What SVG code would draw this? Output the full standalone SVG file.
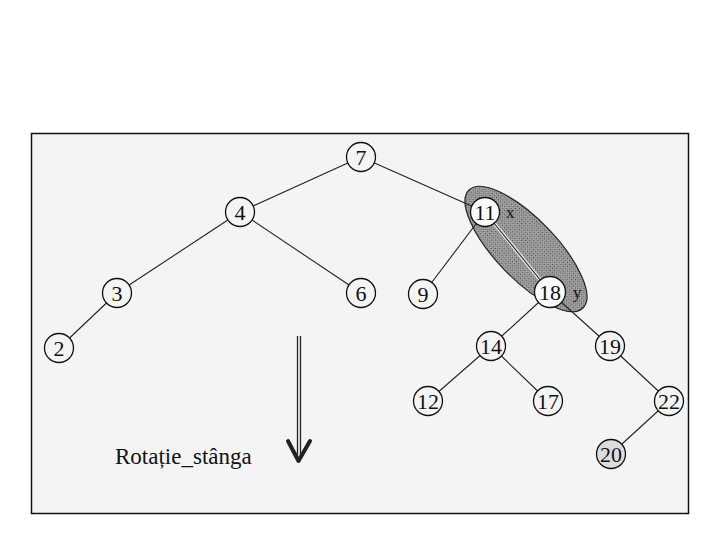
<svg xmlns="http://www.w3.org/2000/svg" width="720" height="540" viewBox="0 0 720 540">
<defs>
<style>
.edge{stroke:#222;stroke-width:1.1;fill:none}
.node circle{fill:#f4f4f4;stroke:#111;stroke-width:1.3}
.node text{font-family:"Liberation Serif","Times New Roman",serif;font-size:22px;fill:#111;text-anchor:middle}
.lbl{font-family:"Liberation Serif","Times New Roman",serif;font-size:17px;fill:#111}
</style>
<pattern id="dots" width="3" height="3" patternUnits="userSpaceOnUse">
<rect width="3" height="3" fill="#b4b4b4"/>
<rect x="0" y="0" width="1.2" height="1.2" fill="#444"/>
<rect x="1.5" y="1.5" width="1.2" height="1.2" fill="#555"/>
</pattern>
</defs>
<rect width="720" height="540" fill="#ffffff"/>
<rect x="31.5" y="133.5" width="657" height="380" fill="#f4f4f4" stroke="#111" stroke-width="1.5"/>

<g id="highlight">
<ellipse cx="526" cy="249" rx="82" ry="30" transform="rotate(46 526 249)" fill="url(#dots)" stroke="#222" stroke-width="1.2"/>
</g>

<g id="connectors">
<line class="edge" x1="361" y1="157" x2="240" y2="212"/>
<line class="edge" x1="361" y1="157" x2="485" y2="212"/>
<line class="edge" x1="240" y1="212" x2="117" y2="293"/>
<line class="edge" x1="240" y1="212" x2="361" y2="293"/>
<line class="edge" x1="117" y1="293" x2="59" y2="348"/>
<line class="edge" x1="485" y1="212" x2="423" y2="294"/>
<line x1="485" y1="212" x2="550" y2="292" stroke="#eeeeee" stroke-width="3.5"/>
<line class="edge" x1="485" y1="212" x2="550" y2="292"/>
<line class="edge" x1="550" y1="292" x2="491" y2="346"/>
<line class="edge" x1="550" y1="292" x2="610" y2="346"/>
<line class="edge" x1="491" y1="346" x2="428" y2="401"/>
<line class="edge" x1="491" y1="346" x2="548" y2="401"/>
<line class="edge" x1="610" y1="346" x2="669" y2="401"/>
<line class="edge" x1="669" y1="401" x2="611" y2="454"/>
</g>

<g id="n7" class="node"><circle cx="361" cy="157" r="14.5"/><text x="361" y="164.5">7</text></g>
<g id="n4" class="node"><circle cx="240" cy="212" r="14.5"/><text x="240" y="219.5">4</text></g>
<g id="n11" class="node"><circle cx="485" cy="212" r="14.5" style="fill:#fafafa"/><text x="485" y="219.5">11</text></g>
<g id="n3" class="node"><circle cx="117" cy="293" r="14.5"/><text x="117" y="300.5">3</text></g>
<g id="n6" class="node"><circle cx="361" cy="293" r="14.5"/><text x="361" y="300.5">6</text></g>
<g id="n9" class="node"><circle cx="423" cy="294" r="14.5"/><text x="423" y="301.5">9</text></g>
<g id="n18" class="node"><circle cx="550" cy="292" r="15.5" style="fill:#fafafa"/><text x="550" y="299.5">18</text></g>
<g id="n2" class="node"><circle cx="59" cy="348" r="14.5"/><text x="59" y="355.5">2</text></g>
<g id="n14" class="node"><circle cx="491" cy="346" r="14.5"/><text x="491" y="353.5">14</text></g>
<g id="n19" class="node"><circle cx="610" cy="346" r="14.5"/><text x="610" y="353.5">19</text></g>
<g id="n12" class="node"><circle cx="428" cy="401" r="14.5"/><text x="428" y="408.5">12</text></g>
<g id="n17" class="node"><circle cx="548" cy="401" r="14.5"/><text x="548" y="408.5">17</text></g>
<g id="n22" class="node"><circle cx="669" cy="401" r="14.5"/><text x="669" y="408.5">22</text></g>
<g id="n20" class="node"><circle cx="611" cy="454" r="14.5" style="fill:#dcdcdc"/><text x="611" y="461.5">20</text></g>

<text class="lbl" x="506" y="218">x</text>
<text class="lbl" x="573" y="298">y</text>

<g id="arrow">
<line x1="297.5" y1="336" x2="297.5" y2="458" stroke="#222" stroke-width="1.3"/>
<line x1="300.5" y1="336" x2="300.5" y2="458" stroke="#222" stroke-width="1.3"/>
<polyline points="288,441 298.5,461 310,441" fill="none" stroke="#222" stroke-width="4" stroke-linejoin="round" stroke-linecap="round"/>
</g>

<text x="115" y="464" font-family="Liberation Serif, Times New Roman, serif" font-size="23" fill="#111">Rotație_stânga</text>
</svg>
